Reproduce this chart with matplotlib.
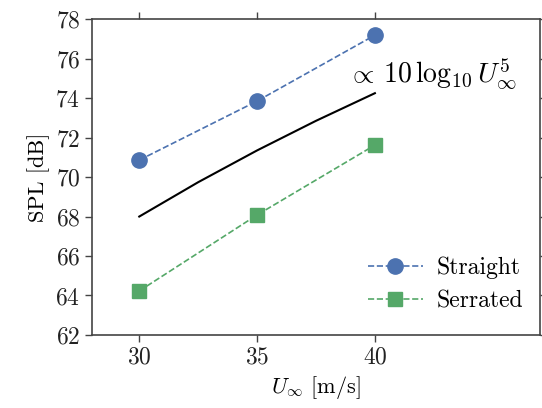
import matplotlib
matplotlib.use('Agg')
import matplotlib.pyplot as plt

# Data
U = [30, 35, 40]
spl_straight = [70.86, 73.85, 77.19]
spl_serrated = [64.23, 68.08, 71.62]

# reference slope curve (proportional to 10 log10 U^5)
U_ref = [30, 32.5, 35, 37.5, 40]
spl_ref = [68.0, 69.74, 71.35, 72.85, 74.25]

plt.rcParams['font.family'] = 'serif'
plt.rcParams['font.serif'] = ['cmr10', 'DejaVu Serif']
plt.rcParams['mathtext.fontset'] = 'cm'
plt.rcParams['axes.formatter.use_mathtext'] = True
plt.rcParams['axes.unicode_minus'] = False

fig = plt.figure(figsize=(5.42, 4.08), dpi=100)
ax = fig.add_axes([0.170, 0.179, 0.826, 0.774])

ax.plot(U, spl_straight, '--o', color='#4C72B0', markersize=11, lw=1.2, label='Straight')
ax.plot(U, spl_serrated, '--s', color='#55A868', markersize=10, lw=1.2, label='Serrated')
ax.plot(U_ref, spl_ref, '-', color='black', lw=1.5)

ax.text(38.85, 75.2, r'$\propto\,10\,\log_{10} U_\infty^5$', fontsize=20, ha='left', va='center')

ax.set_xlim(28, 47)
ax.set_ylim(62, 78)
ax.set_xticks([30, 35, 40])
ax.set_yticks(range(62, 79, 2))

ax.set_xlabel(r'$U_\infty$ [m/s]', fontsize=16)
ax.set_ylabel('SPL [dB]', fontsize=16)

for sp in ax.spines.values():
    sp.set_color('#444444')
    sp.set_linewidth(1.2)
ax.tick_params(direction='out', length=5, width=1, colors='#444444', labelcolor='#222222',
               labelsize=17, top=True, right=True)

ax.legend(loc='lower right', frameon=False, fontsize=17, bbox_to_anchor=(1.0, 0.02),
          handlelength=2.3, handletextpad=0.6, borderaxespad=0.3, labelspacing=0.45)

fig.savefig('out.png', dpi=100)
